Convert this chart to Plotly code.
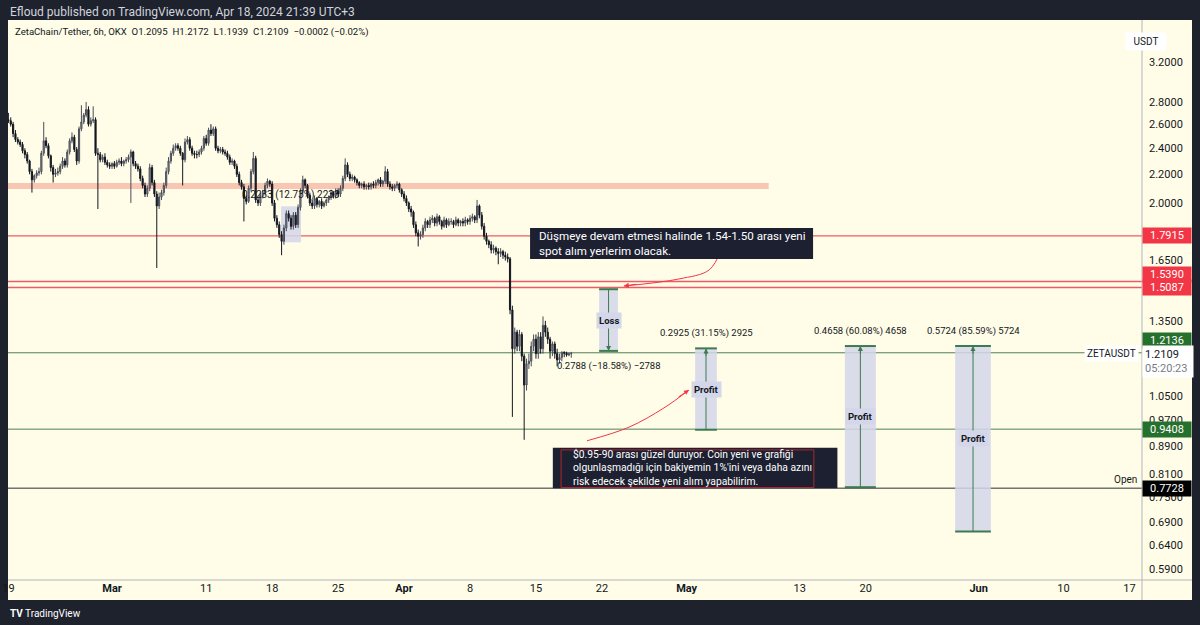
import numpy as np
import pandas as pd
import plotly.graph_objects as go

# ---- data -------------------------------------------------------------
START = "2024-02-19 00:00"  # 6h candles

opens = [
    2.64, 2.63, 2.60, 2.52, 2.47, 2.45, 2.43, 2.38, 2.35, 2.30, 2.22, 2.16,
    2.19, 2.21, 2.22, 2.36, 2.46, 2.42, 2.34, 2.25, 2.20, 2.21, 2.22, 2.26,
    2.30, 2.27, 2.37, 2.46, 2.49, 2.39, 2.30, 2.56, 2.62, 2.68, 2.73, 2.60,
    2.63, 2.64, 2.36, 2.35, 2.31, 2.33, 2.29, 2.27, 2.26, 2.28, 2.26, 2.29,
    2.30, 2.28, 2.30, 2.31, 2.33, 2.37, 2.28, 2.26, 2.24, 2.17, 2.12, 2.06,
    2.10, 2.25, 2.14, 2.06, 1.98, 2.04, 2.07, 2.12, 2.22, 2.30, 2.36, 2.40,
    2.42, 2.40, 2.36, 2.31, 2.45, 2.47, 2.40, 2.36, 2.35, 2.35, 2.37, 2.40,
    2.48, 2.44, 2.55, 2.52, 2.56, 2.40, 2.38, 2.39, 2.37, 2.36, 2.33, 2.29,
    2.30, 2.26, 2.20, 2.14, 2.11, 2.03, 2.01, 2.10, 2.22, 2.32, 2.02, 2.00,
    2.05, 2.07, 2.12, 2.15, 2.13, 2.00, 1.90, 1.86, 1.80, 1.76, 1.84, 1.93,
    1.90, 1.85, 1.92, 1.86, 1.97, 2.08, 2.16, 2.12, 2.05, 2.00, 1.98, 2.03,
    1.99, 2.01, 1.98, 2.00, 2.02, 2.04, 2.07, 2.05, 2.08, 2.06, 2.10, 2.17,
    2.27, 2.20, 2.17, 2.18, 2.16, 2.14, 2.12, 2.13, 2.11, 2.12, 2.11, 2.13,
    2.12, 2.14, 2.16, 2.13, 2.15, 2.22, 2.13, 2.11, 2.10, 2.12, 2.13, 2.09,
    2.06, 2.03, 2.00, 1.96, 1.94, 1.86, 1.81, 1.79, 1.80, 1.84, 1.88, 1.86,
    1.89, 1.90, 1.87, 1.91, 1.88, 1.85, 1.89, 1.86, 1.88, 1.88, 1.86, 1.89,
    1.87, 1.88, 1.87, 1.89, 1.88, 1.90, 1.91, 1.89, 1.98, 1.92, 1.85, 1.79,
    1.76, 1.74, 1.71, 1.72, 1.70, 1.69, 1.70, 1.68, 1.67, 1.66, 1.40, 1.23,
    1.30, 1.24, 1.29, 1.20, 1.09, 1.17, 1.18, 1.24, 1.27, 1.21, 1.28, 1.23,
    1.33, 1.30, 1.27, 1.22, 1.25, 1.21, 1.185, 1.195, 1.215, 1.212, 1.205, 1.2095,
]
highs = [
    2.70, 2.66, 2.62, 2.55, 2.49, 2.47, 2.45, 2.40, 2.37, 2.31, 2.24, 2.20,
    2.23, 2.25, 2.38, 2.62, 2.49, 2.44, 2.35, 2.27, 2.24, 2.25, 2.28, 2.33,
    2.32, 2.39, 2.48, 2.53, 2.51, 2.41, 2.58, 2.77, 2.70, 2.80, 2.76, 2.66,
    2.76, 2.66, 2.40, 2.37, 2.35, 2.36, 2.31, 2.29, 2.29, 2.30, 2.31, 2.32,
    2.33, 2.31, 2.33, 2.35, 2.39, 2.38, 2.30, 2.28, 2.26, 2.19, 2.14, 2.12,
    2.28, 2.27, 2.16, 2.08, 2.07, 2.09, 2.14, 2.25, 2.33, 2.38, 2.43, 2.44,
    2.44, 2.42, 2.37, 2.48, 2.50, 2.49, 2.42, 2.38, 2.38, 2.39, 2.42, 2.50,
    2.51, 2.57, 2.60, 2.58, 2.58, 2.42, 2.41, 2.41, 2.39, 2.38, 2.35, 2.32,
    2.31, 2.28, 2.22, 2.16, 2.13, 2.05, 2.12, 2.24, 2.37, 2.34, 2.04, 2.07,
    2.09, 2.14, 2.17, 2.16, 2.15, 2.02, 1.92, 1.88, 1.82, 1.86, 1.95, 1.95,
    1.92, 1.94, 1.94, 1.99, 2.10, 2.19, 2.17, 2.13, 2.07, 2.02, 2.05, 2.04,
    2.02, 2.03, 2.01, 2.03, 2.05, 2.09, 2.08, 2.10, 2.10, 2.12, 2.19, 2.32,
    2.29, 2.22, 2.20, 2.19, 2.17, 2.15, 2.14, 2.15, 2.13, 2.14, 2.14, 2.15,
    2.16, 2.17, 2.18, 2.16, 2.26, 2.24, 2.15, 2.13, 2.13, 2.15, 2.14, 2.10,
    2.08, 2.05, 2.01, 1.98, 1.95, 1.88, 1.83, 1.82, 1.86, 1.90, 1.89, 1.91,
    1.92, 1.91, 1.93, 1.92, 1.89, 1.91, 1.90, 1.90, 1.90, 1.89, 1.91, 1.90,
    1.89, 1.90, 1.91, 1.90, 1.92, 1.93, 1.92, 2.02, 1.99, 1.94, 1.87, 1.81,
    1.77, 1.76, 1.74, 1.73, 1.72, 1.72, 1.71, 1.70, 1.69, 1.67, 1.42, 1.32,
    1.31, 1.31, 1.30, 1.21, 1.19, 1.21, 1.26, 1.29, 1.29, 1.30, 1.30, 1.37,
    1.35, 1.32, 1.28, 1.26, 1.26, 1.23, 1.21, 1.22, 1.22, 1.218, 1.214, 1.2172,
]
lows = [
    2.61, 2.58, 2.49, 2.45, 2.43, 2.41, 2.36, 2.32, 2.28, 2.20, 2.07, 2.14,
    2.17, 2.19, 2.20, 2.34, 2.40, 2.32, 2.22, 2.14, 2.18, 2.19, 2.20, 2.24,
    2.25, 2.25, 2.35, 2.44, 2.37, 2.27, 2.28, 2.54, 2.60, 2.66, 2.58, 2.58,
    2.61, 2.34, 1.96, 2.29, 2.29, 2.27, 2.25, 2.24, 2.24, 2.24, 2.25, 2.27,
    2.26, 2.26, 2.28, 2.29, 2.00, 2.26, 2.24, 2.22, 2.15, 2.10, 2.04, 2.04,
    2.08, 2.12, 2.04, 1.61, 1.96, 2.02, 2.05, 2.10, 2.20, 2.28, 2.34, 2.38,
    2.38, 2.34, 2.12, 2.29, 2.43, 2.38, 2.34, 2.32, 2.32, 2.33, 2.35, 2.38,
    2.42, 2.42, 2.50, 2.50, 2.38, 2.36, 2.36, 2.35, 2.34, 2.31, 2.27, 2.27,
    2.24, 2.18, 2.12, 2.09, 1.88, 1.99, 2.00, 2.08, 2.20, 2.00, 1.98, 1.98,
    2.03, 2.05, 2.10, 2.11, 1.98, 1.88, 1.84, 1.78, 1.68, 1.74, 1.82, 1.88,
    1.83, 1.83, 1.84, 1.84, 1.95, 2.06, 2.10, 2.03, 1.98, 1.96, 1.96, 1.97,
    1.97, 1.96, 1.97, 1.98, 2.00, 2.02, 2.03, 2.03, 2.04, 2.04, 2.08, 2.15,
    2.18, 2.15, 2.15, 2.14, 2.12, 2.10, 2.10, 2.09, 2.09, 2.09, 2.09, 2.10,
    2.10, 2.12, 2.11, 2.11, 2.13, 2.11, 2.09, 2.08, 2.08, 2.10, 2.07, 2.04,
    2.01, 1.98, 1.94, 1.91, 1.84, 1.79, 1.73, 1.77, 1.78, 1.82, 1.84, 1.84,
    1.87, 1.85, 1.85, 1.86, 1.83, 1.84, 1.84, 1.85, 1.86, 1.84, 1.85, 1.85,
    1.85, 1.85, 1.85, 1.86, 1.86, 1.88, 1.87, 1.87, 1.90, 1.83, 1.77, 1.74,
    1.72, 1.69, 1.69, 1.68, 1.63, 1.67, 1.66, 1.65, 1.64, 1.38, 0.98, 1.21,
    1.22, 1.22, 1.18, 0.908, 1.07, 1.15, 1.16, 1.22, 1.19, 1.19, 1.21, 1.21,
    1.28, 1.25, 1.19, 1.20, 1.19, 1.16, 1.17, 1.18, 1.196, 1.198, 1.20, 1.1939,
]
closes = [
    2.63, 2.60, 2.52, 2.47, 2.45, 2.43, 2.38, 2.35, 2.30, 2.22, 2.16, 2.19,
    2.21, 2.22, 2.36, 2.46, 2.42, 2.34, 2.25, 2.20, 2.21, 2.22, 2.26, 2.30,
    2.27, 2.37, 2.46, 2.49, 2.39, 2.30, 2.56, 2.62, 2.68, 2.73, 2.60, 2.63,
    2.64, 2.36, 2.35, 2.31, 2.33, 2.29, 2.27, 2.26, 2.28, 2.26, 2.29, 2.30,
    2.28, 2.30, 2.31, 2.33, 2.37, 2.28, 2.26, 2.24, 2.17, 2.12, 2.06, 2.10,
    2.25, 2.14, 2.06, 1.98, 2.04, 2.07, 2.12, 2.22, 2.30, 2.36, 2.40, 2.42,
    2.40, 2.36, 2.31, 2.45, 2.47, 2.40, 2.36, 2.35, 2.35, 2.37, 2.40, 2.48,
    2.44, 2.55, 2.52, 2.56, 2.40, 2.38, 2.39, 2.37, 2.36, 2.33, 2.29, 2.30,
    2.26, 2.20, 2.14, 2.11, 2.03, 2.01, 2.10, 2.22, 2.32, 2.02, 2.00, 2.05,
    2.07, 2.12, 2.15, 2.13, 2.00, 1.90, 1.86, 1.80, 1.76, 1.84, 1.93, 1.90,
    1.85, 1.92, 1.86, 1.97, 2.08, 2.16, 2.12, 2.05, 2.00, 1.98, 2.03, 1.99,
    2.01, 1.98, 2.00, 2.02, 2.04, 2.07, 2.05, 2.08, 2.06, 2.10, 2.17, 2.27,
    2.20, 2.17, 2.18, 2.16, 2.14, 2.12, 2.13, 2.11, 2.12, 2.11, 2.13, 2.12,
    2.14, 2.16, 2.13, 2.15, 2.22, 2.13, 2.11, 2.10, 2.12, 2.13, 2.09, 2.06,
    2.03, 2.00, 1.96, 1.94, 1.86, 1.81, 1.79, 1.80, 1.84, 1.88, 1.86, 1.89,
    1.90, 1.87, 1.91, 1.88, 1.85, 1.89, 1.86, 1.88, 1.88, 1.86, 1.89, 1.87,
    1.88, 1.87, 1.89, 1.88, 1.90, 1.91, 1.89, 1.98, 1.92, 1.85, 1.79, 1.76,
    1.74, 1.71, 1.72, 1.70, 1.69, 1.70, 1.68, 1.67, 1.66, 1.40, 1.23, 1.30,
    1.24, 1.29, 1.20, 1.09, 1.17, 1.18, 1.24, 1.27, 1.21, 1.28, 1.23, 1.33,
    1.30, 1.27, 1.22, 1.25, 1.21, 1.185, 1.195, 1.215, 1.212, 1.205, 1.2095, 1.2109,
]

RED_LEVELS = [1.7915, 1.5390, 1.5087]
GREEN_LEVELS = [1.2136, 0.9408]
OPEN_LEVEL = 0.7728
LAST_PRICE = 1.2109
BAND_LEVEL = 2.116
BAND_END = "2024-05-09 17:00"

# position / measurement tools: (start, end, low, high, label, kind, caption)
tools = [
    ("2024-03-18 22:30", "2024-03-21 01:30", 1.754, 1.9773, "", "range", "0.2233 (12.73%) 2233"),
    ("2024-04-21 17:00", "2024-04-23 17:00", 1.2212, 1.50, "Loss", "loss", "0.2788 (\u221218.58%) \u22122788"),
    ("2024-05-01 21:30", "2024-05-04 05:00", 0.939, 1.2315, "Profit", "profit", "0.2925 (31.15%) 2925"),
    ("2024-05-17 19:00", "2024-05-21 02:00", 0.7753, 1.2411, "Profit", "profit", "0.4658 (60.08%) 4658"),
    ("2024-05-29 12:00", "2024-06-02 07:00", 0.6688, 1.2412, "Profit", "profit", "0.5724 (85.59%) 5724"),
]

# curved red arrows (drawing tool anchors)
arrow_top_x = ["2024-05-04 15:30", "2024-05-03 09:30", "2024-04-30 04:00", "2024-04-24 08:00"]
arrow_top_y = [1.710, 1.600, 1.552, 1.516]
arrow_low_x = ["2024-04-20 10:00", "2024-04-24 21:00", "2024-04-28 14:00", "2024-05-01 06:00"]
arrow_low_y = [0.905, 0.947, 1.0097, 1.072]

NOTE_1 = "Düşmeye devam etmesi halinde 1.54-1.50 arası yeni<br>spot alım yerlerim olacak."
NOTE_2 = ("$0.95-90 arası güzel duruyor. Coin yeni ve grafiği<br>"
          "olgunlaşmadığı için bakiyemin 1%'ini veya daha azını<br>"
          "risk edecek şekilde yeni alım yapabilirim.")

Y_TICKS = [3.2, 2.8, 2.6, 2.4, 2.2, 2.0, 1.65, 1.35, 1.05, 0.97, 0.89, 0.81, 0.75, 0.69, 0.64, 0.59]
X_TICKS = ["2024-02-19", "2024-03-01", "2024-03-11", "2024-03-18", "2024-03-25", "2024-04-01",
           "2024-04-08", "2024-04-15", "2024-04-22", "2024-05-01", "2024-05-13", "2024-05-20",
           "2024-06-01", "2024-06-10", "2024-06-17"]
X_TICK_TEXT = ["19", "<b>Mar</b>", "11", "18", "25", "<b>Apr</b>", "8", "15", "22", "<b>May</b>",
               "13", "20", "<b>Jun</b>", "10", "17"]

X_START, X_END = "2024-02-18 23:00", "2024-06-18 08:00"
Y_MIN, Y_MAX = 0.569, 3.68

# ---- style ------------------------------------------------------------
CREAM = "#fffde8"
DARK = "#1e222d"
TEXT = "#131722"
RED = "#f23645"
RED_LINE = "#ef5a64"
GREEN = "#26702e"
GREEN_LINE = "#4f7f5a"
BOX = "#d4d6ea"
EDGE = "#3d7a50"
FONT = "Roboto, sans-serif"

times = pd.date_range(START, periods=len(closes), freq="6h")

fig = go.Figure()
fig.add_trace(
    go.Candlestick(
        x=times, open=opens, high=highs, low=lows, close=closes,
        increasing=dict(line=dict(color="#4a4d57", width=1), fillcolor="#8f929b"),
        decreasing=dict(line=dict(color="#131722", width=1), fillcolor="#131722"),
        whiskerwidth=0, showlegend=False, hoverinfo="skip",
    )
)
for xs, ys in ((arrow_top_x, arrow_top_y), (arrow_low_x, arrow_low_y)):
    fig.add_trace(go.Scatter(x=xs, y=ys, mode="lines", line=dict(color=RED, width=1, shape="spline"),
                             showlegend=False, hoverinfo="skip"))

shapes = []
annotations = []

# page frame
def frame(x0, x1, y0, y1, color):
    shapes.append(dict(type="rect", xref="paper", yref="paper", x0=x0, x1=x1, y0=y0, y1=y1,
                       fillcolor=color, line=dict(width=0), layer="below"))

frame(-0.01, 1.06, 1.0, 1.04, DARK)
frame(-0.01, 1.06, -0.0357, -0.09, DARK)
frame(-0.01, 0.0, -0.09, 1.04, DARK)
frame(1.0441, 1.06, -0.09, 1.04, DARK)
shapes.append(dict(type="line", xref="paper", yref="paper", x0=1, x1=1, y0=-0.0357, y1=1,
                   line=dict(color="#b2b5be", width=1)))
shapes.append(dict(type="line", xref="paper", yref="paper", x0=0, x1=1.0441, y0=0, y1=0,
                   line=dict(color="#b2b5be", width=1)))

# horizontal levels
shapes.append(dict(type="line", xref="x", yref="y", x0=X_START, x1=BAND_END, y0=BAND_LEVEL, y1=BAND_LEVEL,
                   line=dict(color="#f9c6b4", width=6), layer="below"))
for lvl in RED_LEVELS:
    shapes.append(dict(type="line", xref="paper", yref="y", x0=0, x1=1, y0=lvl, y1=lvl,
                       line=dict(color=RED_LINE, width=1.3), layer="below"))
for lvl in GREEN_LEVELS:
    shapes.append(dict(type="line", xref="paper", yref="y", x0=0, x1=1, y0=lvl, y1=lvl,
                       line=dict(color=GREEN_LINE, width=1), layer="below"))
shapes.append(dict(type="line", xref="paper", yref="y", x0=0, x1=1, y0=OPEN_LEVEL, y1=OPEN_LEVEL,
                   line=dict(color="#2a2e39", width=1), layer="below"))

# position tools
for start, end, low, high, label, kind, caption in tools:
    t0, t1 = pd.Timestamp(start), pd.Timestamp(end)
    mid = t0 + (t1 - t0) / 2
    shapes.append(dict(type="rect", xref="x", yref="y", x0=start, x1=end, y0=low, y1=high,
                       fillcolor=BOX, line=dict(width=0), layer="below", opacity=0.85))
    if kind == "range":
        annotations.append(dict(x=mid, y=np.log10(high), xref="x", yref="y", text=caption,
                                showarrow=False, yshift=11, font=dict(size=10, color=TEXT)))
        continue
    for lvl in (low, high):
        shapes.append(dict(type="line", xref="x", yref="y", x0=start, x1=end, y0=lvl, y1=lvl,
                           line=dict(color=EDGE, width=2), layer="below"))
    shapes.append(dict(type="line", xref="x", yref="y", x0=mid, x1=mid, y0=low, y1=high,
                       line=dict(color=EDGE, width=1), layer="below"))
    head = high if kind == "profit" else low
    annotations.append(dict(x=mid, y=np.log10(head), xref="x", yref="y", text="", showarrow=True,
                            ax=0, ay=9 if kind == "profit" else -9, arrowhead=2, arrowsize=1,
                            arrowwidth=1, arrowcolor=EDGE, standoff=0))
    annotations.append(dict(x=mid, y=(np.log10(low) + np.log10(high)) / 2, xref="x", yref="y",
                            text=f"<b>{label}</b>", showarrow=False, bgcolor=BOX,
                            font=dict(size=9.5, color=TEXT), borderpad=2))
    annotations.append(dict(x=mid, y=np.log10(high if kind == "profit" else low), xref="x", yref="y",
                            text=caption, showarrow=False, yshift=15 if kind == "profit" else -15,
                            font=dict(size=9.5, color=TEXT)))

# notes
shapes.append(dict(type="rect", xref="x", yref="y", x0="2024-04-14 09:00", x1="2024-05-14 10:00",
                   y0=1.659, y1=1.840, fillcolor="#1c2030", line=dict(width=0)))
shapes.append(dict(type="rect", xref="x", yref="y", x0="2024-04-16 19:00", x1="2024-05-17 00:00",
                   y0=0.7728, y1=0.884, fillcolor="#1c2030", line=dict(width=0)))
shapes.append(dict(type="rect", xref="x", yref="y", x0="2024-04-17 16:00", x1="2024-05-14 12:00",
                   y0=0.7745, y1=0.878, fillcolor="rgba(0,0,0,0)", line=dict(color="#b0262f", width=1)))
annotations.append(dict(x="2024-04-15 03:00", y=np.log10(1.747), xref="x", yref="y", text=NOTE_1,
                        showarrow=False, xanchor="left", align="left",
                        font=dict(size=11.6, color="#ffffff")))
annotations.append(dict(x="2024-04-18 17:00", y=np.log10(0.826), xref="x", yref="y", text=NOTE_2,
                        showarrow=False, xanchor="left", align="left",
                        font=dict(size=10.3, color="#ffffff")))

# arrow heads of the red curved arrows
annotations.append(dict(x=arrow_top_x[-1], y=np.log10(arrow_top_y[-1]), xref="x", yref="y", text="",
                        showarrow=True, ax=14, ay=-2, arrowhead=2, arrowwidth=1, arrowcolor=RED))
annotations.append(dict(x=arrow_low_x[-1], y=np.log10(arrow_low_y[-1]), xref="x", yref="y", text="",
                        showarrow=True, ax=-12, ay=8, arrowhead=2, arrowwidth=1, arrowcolor=RED))

# price scale labels
def price_tag(value, bg, fg="#ffffff", shift=0):
    annotations.append(dict(x=1, y=np.log10(value), xref="paper", yref="y", xanchor="left",
                            text=f"{value:.4f}", showarrow=False, bgcolor=bg, width=46, height=13,
                            borderpad=1, yshift=shift, font=dict(size=11, color=fg)))

price_tag(RED_LEVELS[0], RED)
price_tag(RED_LEVELS[1], RED, shift=7)
price_tag(RED_LEVELS[2], RED)
price_tag(GREEN_LEVELS[0], GREEN, shift=12)
price_tag(GREEN_LEVELS[1], GREEN)
price_tag(OPEN_LEVEL, "#000000")
annotations.append(dict(x=1, y=np.log10(LAST_PRICE), xref="paper", yref="y", xanchor="left", yanchor="top",
                        yshift=8, text=f"{LAST_PRICE:.4f}<br><span style='color:#787b86'>05:20:23</span>",
                        showarrow=False, bgcolor="#ffffff", width=46, borderpad=2, align="left",
                        font=dict(size=11, color=TEXT)))
annotations.append(dict(x=1, y=np.log10(LAST_PRICE), xref="paper", yref="y", xanchor="right", xshift=-3,
                        text="ZETAUSDT", showarrow=False, bgcolor="#ffffff", borderpad=2,
                        font=dict(size=10, color=TEXT)))
annotations.append(dict(x=1, y=np.log10(OPEN_LEVEL), xref="paper", yref="y", xanchor="right", yanchor="bottom",
                        xshift=-3, yshift=1, text="Open", showarrow=False, font=dict(size=10, color=TEXT)))
annotations.append(dict(x=1.022, y=0.979, xref="paper", yref="paper", text="USDT", showarrow=False,
                        bgcolor="#ffffff", width=38, height=15, font=dict(size=10, color=TEXT)))

# header / footer text
annotations.append(dict(x=0, y=1.0143, xref="paper", yref="paper", xanchor="left", yanchor="middle",
                        text="Efloud published on TradingView.com, Apr 18, 2024 21:39 UTC+3",
                        showarrow=False, font=dict(size=12, color="#d1d4dc")))
annotations.append(dict(x=0.004, y=0.979, xref="paper", yref="paper", xanchor="left", yanchor="middle",
                        text="ZetaChain/Tether, 6h, OKX  O1.2095  H1.2172  L1.1939  C1.2109  \u22120.0002 (\u22120.02%)",
                        showarrow=False, font=dict(size=9.6, color=TEXT)))
annotations.append(dict(x=0, y=-0.059, xref="paper", yref="paper", xanchor="left", yanchor="middle",
                        text="<b>TV</b> TradingView", showarrow=False, font=dict(size=10, color="#ffffff")))

fig.update_layout(
    width=1200, height=625,
    margin=dict(l=8, r=58, t=20, b=45, autoexpand=False),
    paper_bgcolor=CREAM, plot_bgcolor=CREAM,
    font=dict(family=FONT, color=TEXT, size=11),
    showlegend=False,
    shapes=shapes, annotations=annotations,
    xaxis=dict(type="date", range=[X_START, X_END], tickvals=X_TICKS, ticktext=X_TICK_TEXT,
               showgrid=False, zeroline=False, showline=False, ticks="", automargin=False,
               rangeslider=dict(visible=False), tickfont=dict(size=11, color=TEXT)),
    yaxis=dict(type="log", side="right", range=[np.log10(Y_MIN), np.log10(Y_MAX)],
               tickvals=Y_TICKS, ticktext=[f"{v:.4f}" for v in Y_TICKS], automargin=False,
               showgrid=False, zeroline=False, showline=False, ticks="",
               ticklabelstandoff=6, tickfont=dict(size=11, color=TEXT)),
)

fig.write_html(
    "out.html",
    config={"displayModeBar": False},
    post_script="document.body.style.margin='0';document.body.style.overflow='hidden';",
)
